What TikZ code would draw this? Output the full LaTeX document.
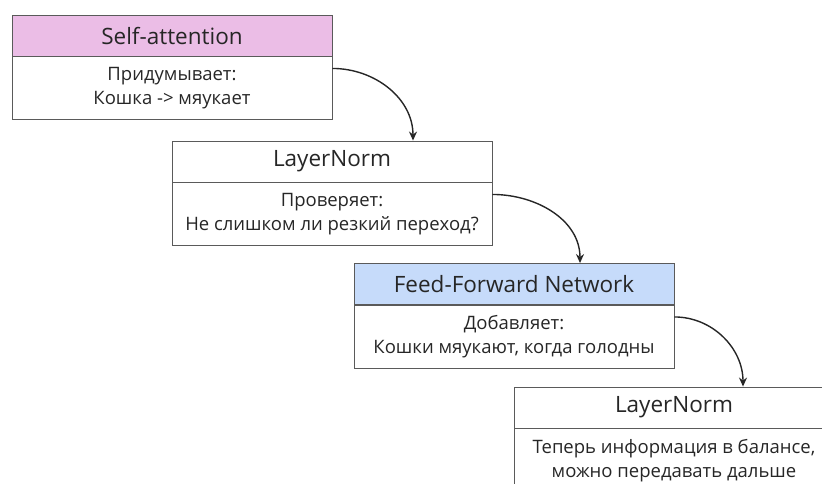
\documentclass[tikz,border=0pt]{standalone}
\usepackage{fontspec}
\setmainfont{Open Sans}
\usetikzlibrary{arrows.meta,positioning}
\definecolor{attnpink}{HTML}{EBBDE6}
\definecolor{ffnblue}{HTML}{C6DBFA}
\definecolor{edgegray}{HTML}{5A5A5A}
\definecolor{inkgray}{HTML}{262626}

\begin{document}
\begin{tikzpicture}[x=1pt,y=-1pt,>={Stealth[length=9pt,width=8pt]},
  head/.style={draw=edgegray,line width=0.9pt,minimum width=320pt,minimum height=41pt,
    inner sep=0pt,text=inkgray,font=\fontsize{22.5}{24}\selectfont},
  body/.style={draw=edgegray,line width=0.9pt,minimum width=320pt,minimum height=63pt,
    inner sep=0pt,align=center,text=inkgray,font=\fontsize{18.5}{24}\selectfont,
    execute at begin node={\rule{0pt}{25pt}}},
  flow/.style={->,line width=1.4pt,draw=inkgray}]
  \clip (0,0) rectangle (822,483);
  \useasboundingbox (0,0) rectangle (822,483);

  % four stages, each a header with a body under it
  \node[head,fill=attnpink] (sa) at (172,35.5) {Self-attention};
  \node[body,below=0pt of sa] (sa-body) {Придумывает:\\Кошка -> мяукает};

  \node[head,fill=white] (ln1) at (332,161.5) {LayerNorm};
  \node[body,below=0pt of ln1] (ln1-body) {Проверяет:\\Не слишком ли резкий переход?};

  \node[head,fill=ffnblue] (ffn) at (514,284) {Feed-Forward Network};
  \node[body,below=0pt of ffn] (ffn-body) {Добавляет:\\Кошки мяукают, когда голодны};

  \node[head,fill=white] (ln2) at (674,407.5) {LayerNorm};
  \node[body,below=0pt of ln2] (ln2-body) {Теперь информация в балансе,\\можно передавать дальше};

  % curved hand-offs between stages
  \draw[flow] ([yshift=-12pt]sa-body.north east) to[out=0,in=90] ([xshift=81pt]ln1.north);
  \draw[flow] ([yshift=-12pt]ln1-body.north east) to[out=0,in=90] ([xshift=66pt]ffn.north);
  \draw[flow] ([yshift=-12pt]ffn-body.north east) to[out=0,in=90] ([xshift=69pt]ln2.north);
\end{tikzpicture}
\end{document}
